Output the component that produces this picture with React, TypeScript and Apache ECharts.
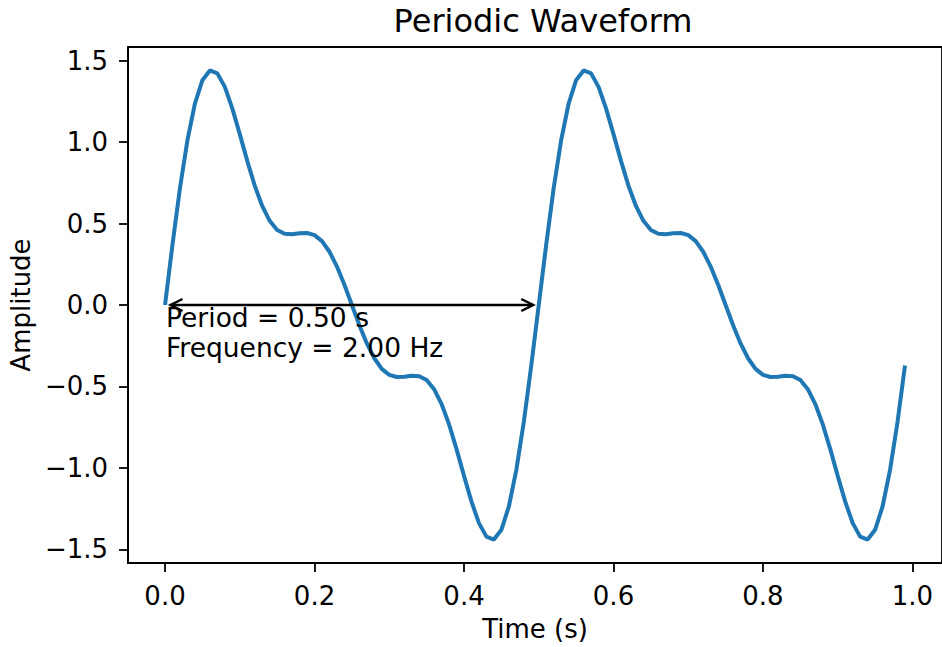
import React, { useEffect, useRef } from "react";
import * as echarts from "echarts";

// Sampled waveform amplitude (t = 0.00 ... 0.99 s, step 0.01 s)
const AMPLITUDE = [
  0, 0.372, 0.718, 1.012, 1.237, 1.38, 1.44, 1.422, 1.339, 1.207,
  1.049, 0.885, 0.733, 0.608, 0.517, 0.461, 0.437, 0.434, 0.44, 0.442,
  0.429, 0.392, 0.327, 0.236, 0.124, 0, -0.124, -0.236, -0.327, -0.392,
  -0.429, -0.442, -0.44, -0.434, -0.437, -0.461, -0.517, -0.608, -0.733, -0.885,
  -1.049, -1.207, -1.339, -1.422, -1.44, -1.38, -1.237, -1.012, -0.718, -0.372,
  0, 0.372, 0.718, 1.012, 1.237, 1.38, 1.44, 1.422, 1.339, 1.207,
  1.049, 0.885, 0.733, 0.608, 0.517, 0.461, 0.437, 0.434, 0.44, 0.442,
  0.429, 0.392, 0.327, 0.236, 0.124, 0, -0.124, -0.236, -0.327, -0.392,
  -0.429, -0.442, -0.44, -0.434, -0.437, -0.461, -0.517, -0.608, -0.733, -0.885,
  -1.049, -1.207, -1.339, -1.422, -1.44, -1.38, -1.237, -1.012, -0.718, -0.372,
];
const SAMPLE_STEP = 0.01;
const TIME = AMPLITUDE.map((_, i) => +(i * SAMPLE_STEP).toFixed(2));

const X_TICKS = [0, 0.2, 0.4, 0.6, 0.8, 1.0];
const Y_TICKS = [-1.5, -1.0, -0.5, 0, 0.5, 1.0, 1.5];

const PERIOD = 0.5;
const FREQUENCY = 2.0;
const ARROW_START = [0, 0];

const FONT = "DejaVu Sans";

export default function App() {
  const ref = useRef<HTMLDivElement>(null);

  useEffect(() => {
    document.body.style.margin = "0";
    const chart = echarts.init(ref.current!, null, { renderer: "svg" });

    const lineData = TIME.map((t, i) => [t, AMPLITUDE[i]]);
    const annotationData = [[ARROW_START[0], ARROW_START[1], ARROW_START[0] + PERIOD]];

    const option: any = {
      animation: false,
      backgroundColor: "#ffffff",
      title: {
        text: "Periodic Waveform",
        left: 538,
        textAlign: "center",
        top: 0,
        textStyle: { fontFamily: FONT, fontSize: 32, fontWeight: "normal", color: "#000" },
      },
      grid: {
        left: 128,
        right: -5,
        top: 47,
        bottom: 82,
        show: true,
        borderColor: "#000",
        borderWidth: 1.8,
        backgroundColor: "transparent",
      },
      xAxis: {
        type: "value",
        min: -0.0495,
        max: 1.0395,
        name: "Time (s)",
        nameLocation: "middle",
        nameGap: 53,
        nameTextStyle: { fontFamily: FONT, fontSize: 26, color: "#000" },
        splitLine: { show: false },
        axisLine: { show: true, onZero: false, lineStyle: { color: "#000", width: 1.8 } },
        axisTick: {
          show: true,
          length: 9,
          lineStyle: { color: "#000", width: 1.8 },
          customValues: X_TICKS,
        },
        axisLabel: {
          fontFamily: FONT,
          fontSize: 26,
          color: "#000",
          margin: 20,
          customValues: X_TICKS,
          formatter: (v: number) => v.toFixed(1),
        },
      },
      yAxis: {
        type: "value",
        min: -1.584,
        max: 1.584,
        name: "Amplitude",
        nameLocation: "middle",
        nameGap: 94,
        nameTextStyle: { fontFamily: FONT, fontSize: 26, color: "#000" },
        splitLine: { show: false },
        axisLine: { show: true, onZero: false, lineStyle: { color: "#000", width: 1.8 } },
        axisTick: {
          show: true,
          length: 9,
          lineStyle: { color: "#000", width: 1.8 },
          customValues: Y_TICKS,
        },
        axisLabel: {
          fontFamily: FONT,
          fontSize: 26,
          color: "#000",
          margin: 20,
          customValues: Y_TICKS,
          formatter: (v: number) => (v < 0 ? "\u2212" + Math.abs(v).toFixed(1) : v.toFixed(1)),
        },
      },
      series: [
        {
          type: "line",
          data: lineData,
          showSymbol: false,
          symbol: "none",
          lineStyle: { color: "#1f77b4", width: 4 },
          z: 2,
        },
        {
          type: "custom",
          data: annotationData,
          z: 3,
          renderItem: (params: any, api: any) => {
            const p0 = api.coord([api.value(0), api.value(1)]);
            const p1 = api.coord([api.value(2), api.value(1)]);
            const shrink = 5.5;
            const x0 = p0[0] + shrink;
            const x1 = p1[0] - shrink;
            const y = p0[1];
            const hl = 12;
            const hw = 6;
            const stroke = { stroke: "#000", lineWidth: 2.4, fill: "none" };
            return {
              type: "group",
              children: [
                { type: "line", shape: { x1: x0, y1: y, x2: x1, y2: y }, style: stroke },
                {
                  type: "polyline",
                  shape: { points: [[x0 + hl, y - hw], [x0, y], [x0 + hl, y + hw]] },
                  style: stroke,
                },
                {
                  type: "polyline",
                  shape: { points: [[x1 - hl, y - hw], [x1, y], [x1 - hl, y + hw]] },
                  style: stroke,
                },
                {
                  type: "text",
                  x: p0[0] + 1,
                  y: y - 3,
                  style: {
                    text: `Period = ${PERIOD.toFixed(2)} s\nFrequency = ${FREQUENCY.toFixed(2)} Hz`,
                    fill: "#000",
                    fontFamily: FONT,
                    fontSize: 26.5,
                    lineHeight: 30,
                    align: "left",
                    verticalAlign: "top",
                  },
                },
              ],
            };
          },
        },
      ],
    };

    chart.setOption(option);
    return () => chart.dispose();
  }, []);

  return <div ref={ref} style={{ width: 942, height: 647 }} />;
}
